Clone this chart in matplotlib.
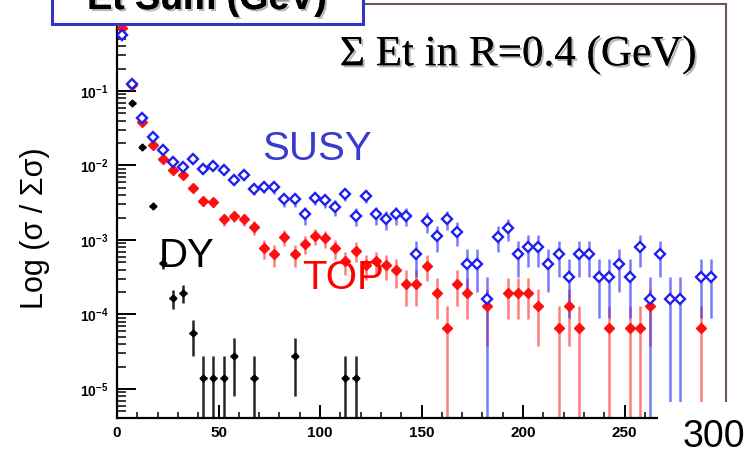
import numpy as np
import matplotlib
matplotlib.use('Agg')
import matplotlib.pyplot as plt
import matplotlib.patheffects as pe
from matplotlib.patches import Rectangle
from matplotlib.ticker import LogLocator, MultipleLocator, FuncFormatter, NullFormatter

plt.rcParams['font.family'] = ['Liberation Sans', 'DejaVu Sans']
plt.rcParams['mathtext.fontset'] = 'custom'
plt.rcParams['mathtext.rm'] = 'Liberation Sans'
plt.rcParams['mathtext.bf'] = 'Liberation Sans:bold'

# 5 GeV bins, 0-300 GeV
bin_width = 5
edges = np.arange(0, 300 + bin_width, bin_width)
centers = edges[:-1] + bin_width / 2

susy = [0.565, 0.123, 0.043, 0.024, 0.0162, 0.0113, 0.0096, 0.0121, 0.0089, 0.0099,
        0.0087, 0.0064, 0.0075, 0.0049, 0.0052, 0.0051, 0.0035, 0.0035, 0.0022, 0.0037,
        0.0034, 0.00275, 0.0042, 0.0021, 0.0039, 0.0022, 0.0019, 0.0022, 0.0021, 0.00064,
        0.0018, 0.00113, 0.0019, 0.00129, 0.00048, 0.00048, 0.00016, 0.00111, 0.00144, 0.00064,
        0.0008, 0.0008, 0.00048, 0.00064, 0.00032, 0.00064, 0.00064, 0.00032, 0.00032, 0.00048,
        0.00032, 0.0008, 0.00016, 0.00064, 0.00016, 0.00016, 0, 0.00032, 0.00032, 0]
susy_err = [0.0095, 0.0044, 0.0026, 0.0020, 0.0016, 0.0013, 0.0012, 0.0014, 0.0012, 0.0013,
            0.0012, 0.0010, 0.0011, 0.00089, 0.00091, 0.0009, 0.00075, 0.00075, 0.00059, 0.00077,
            0.00074, 0.00066, 0.00082, 0.00058, 0.00079, 0.00059, 0.00055, 0.00059, 0.00058, 0.00032,
            0.00054, 0.00043, 0.00055, 0.00045, 0.00028, 0.00028, 0.00016, 0.00042, 0.00048, 0.00032,
            0.00036, 0.00036, 0.00028, 0.00032, 0.00023, 0.00032, 0.00032, 0.00023, 0.00023, 0.00028,
            0.00023, 0.00036, 0.00016, 0.00032, 0.00016, 0.00016, 0, 0.00023, 0.00023, 0]

top = [0.695, 0.12, 0.038, 0.0188, 0.0121, 0.0087, 0.0075, 0.0050, 0.0033, 0.0032,
       0.0019, 0.0021, 0.0019, 0.00148, 0.00078, 0.00065, 0.00111, 0.00065, 0.00088, 0.00113,
       0.00105, 0.00078, 0.00052, 0.00072, 0.00046, 0.00052, 0.00046, 0.00039, 0.00026, 0.00026,
       0.00045, 0.000196, 0.000065, 0.00026, 0.000196, 0, 0.00013, 0, 0.000196, 0.000196,
       0.000196, 0.00013, 0, 0.000065, 0.00013, 0.000065, 0, 0, 0.000065, 0,
       0.000065, 0.000065, 0.00013, 0, 0, 0, 0, 0.000065, 0, 0]
top_err = [0.0067, 0.0028, 0.0016, 0.0011, 0.00089, 0.00075, 0.0007, 0.00057, 0.00046, 0.00046,
           0.00035, 0.00037, 0.00035, 0.00031, 0.00023, 0.00021, 0.00027, 0.00021, 0.00024, 0.00027,
           0.00026, 0.00023, 0.00018, 0.00022, 0.00017, 0.00018, 0.00017, 0.00016, 0.00013, 0.00013,
           0.00017, 0.00011, 0.000065, 0.00013, 0.00011, 0, 0.000092, 0, 0.00011, 0.00011,
           0.00011, 0.000092, 0, 0.000065, 0.000092, 0.000065, 0, 0, 0.000065, 0,
           0.000065, 0.000065, 0.000092, 0, 0, 0, 0, 0.000065, 0, 0]

dy = [0.93, 0.069, 0.0178, 0.0029, 0.00049, 0.000166, 0.000195, 0.000056, 1.4e-5, 1.4e-5,
      1.4e-5, 2.8e-5, 0, 1.4e-5, 0, 0, 0, 2.8e-5, 0, 0,
      0, 0, 1.4e-5, 1.4e-5]
dy_err = [0.0036, 0.001, 0.0005, 0.0002, 0.000083, 0.000048, 0.000052, 0.000028, 1.4e-5, 1.4e-5,
          1.4e-5, 2.0e-5, 0, 1.4e-5, 0, 0, 0, 2.0e-5, 0, 0,
          0, 0, 1.4e-5, 1.4e-5]


def draw(ax, x, vals, errs, color, bar_color, **mk):
    x = np.asarray(x, float)
    v = np.asarray(vals, float)
    e = np.asarray(errs, float)
    keep = v > 0
    x, v, e = x[keep], v[keep], e[keep]
    lo = np.minimum(e, v * 0.9999)
    ax.errorbar(x, v, yerr=[lo, e], xerr=1.8, fmt='none', ecolor=bar_color,
                elinewidth=1.8, capsize=0, zorder=2)
    ax.plot(x, v, linestyle='none', color=color, zorder=3, **mk)


def xlabel_fmt(v, p):
    # 300 sits under the white patch, drawn separately
    return '' if v >= 300 else '%d' % v


def ylabel_fmt(v, p):
    n = int(round(np.log10(v)))
    return '' if n >= 0 else r'$\mathbf{10^{%d}}$' % n


W, H = 751, 455
fig = plt.figure(figsize=(W / 100, H / 100), dpi=100)
ax = fig.add_axes([117 / W, (H - 418) / H, (726 - 117) / W, (418 - 4) / H])
ax.set_yscale('log', nonpositive='clip')
ax.set_xlim(0, 300)
ax.set_ylim(4.08e-6, 1.47)

draw(ax, centers[:len(dy)], dy, dy_err, 'black', (0, 0, 0, 0.85),
     marker='D', ms=3.5, mfc='black', mec='black')
draw(ax, centers, top, top_err, '#ff1010', (1, 0.15, 0.15, 0.6),
     marker='D', ms=4.8, mfc='#ff1010', mec='#ff1010')
draw(ax, centers, susy, susy_err, '#2020ee', (0.2, 0.2, 1.0, 0.65),
     marker='D', ms=4.8, mfc='white', mec='#2020ee', mew=1.7)

# axes styling, ROOT-like inward ticks
for s in ('left', 'bottom'):
    ax.spines[s].set_linewidth(1.6)
    ax.spines[s].set_color('black')
for s in ('top', 'right'):
    ax.spines[s].set_linewidth(1.5)
    ax.spines[s].set_color('#6b5555')

ax.xaxis.set_major_locator(MultipleLocator(50))
ax.xaxis.set_minor_locator(MultipleLocator(10))
ax.xaxis.set_major_formatter(FuncFormatter(xlabel_fmt))
ax.yaxis.set_major_locator(LogLocator(base=10, numticks=20))
ax.yaxis.set_minor_locator(LogLocator(base=10, subs=np.arange(2, 10), numticks=20))
ax.yaxis.set_minor_formatter(NullFormatter())
ax.yaxis.set_major_formatter(FuncFormatter(ylabel_fmt))
ax.tick_params(which='both', direction='in', top=False, right=False, color='black')
ax.tick_params(axis='y', which='major', length=13.5, width=1.4, pad=6, labelsize=10)
ax.tick_params(axis='y', which='minor', length=6.5, width=1.1)
ax.tick_params(axis='x', which='major', length=9.5, width=1.4, pad=6, labelsize=11)
ax.tick_params(axis='x', which='minor', length=4.5, width=1.1)
for lab in ax.get_xticklabels():
    lab.set_fontweight('bold')

fig.text(35 / W, 1 - 228 / H, 'Log (σ / Σσ)', rotation=90, ha='center', va='center',
         fontsize=22)

shadow = [pe.withSimplePatchShadow(offset=(1.5, -1.5), shadow_rgbFace='#888888', alpha=0.6),
          pe.Normal()]
fig.text(518 / W, 1 - 55 / H, 'Σ Et in R=0.4 (GeV)', ha='center', va='center',
         fontsize=31, family=['Liberation Serif', 'DejaVu Serif'], path_effects=shadow)

fig.text(317 / W, 1 - 149 / H, 'SUSY', color='#3a3acd', ha='center', va='center', fontsize=29)
fig.text(187 / W, 1 - 256 / H, 'DY', color='black', ha='center', va='center', fontsize=29)
fig.text(343 / W, 1 - 278 / H, 'TOP', color='#ff0000', ha='center', va='center', fontsize=29)

# title box at the top, partly off the picture
box = Rectangle((52 / W, 1 - 24 / H), (363 - 52) / W, 60 / H, transform=fig.transFigure,
                facecolor='white', edgecolor='#3535c8', linewidth=2.2, zorder=5)
fig.add_artist(box)
fig.text(207 / W, 1 - 9 / H, 'Et Sum (GeV)', ha='center', va='baseline', fontsize=27,
         fontweight='bold', zorder=6, path_effects=shadow)

# patch over the lower right corner with the "300" label
patch = Rectangle((658 / W, 0), (W - 658) / W, (H - 402) / H, transform=fig.transFigure,
                  facecolor='white', edgecolor='none', zorder=5)
fig.add_artist(patch)
fig.text(714 / W, 1 - 437 / H, '300', ha='center', va='center', fontsize=27, zorder=6)

fig.savefig('out.png', dpi=100)
